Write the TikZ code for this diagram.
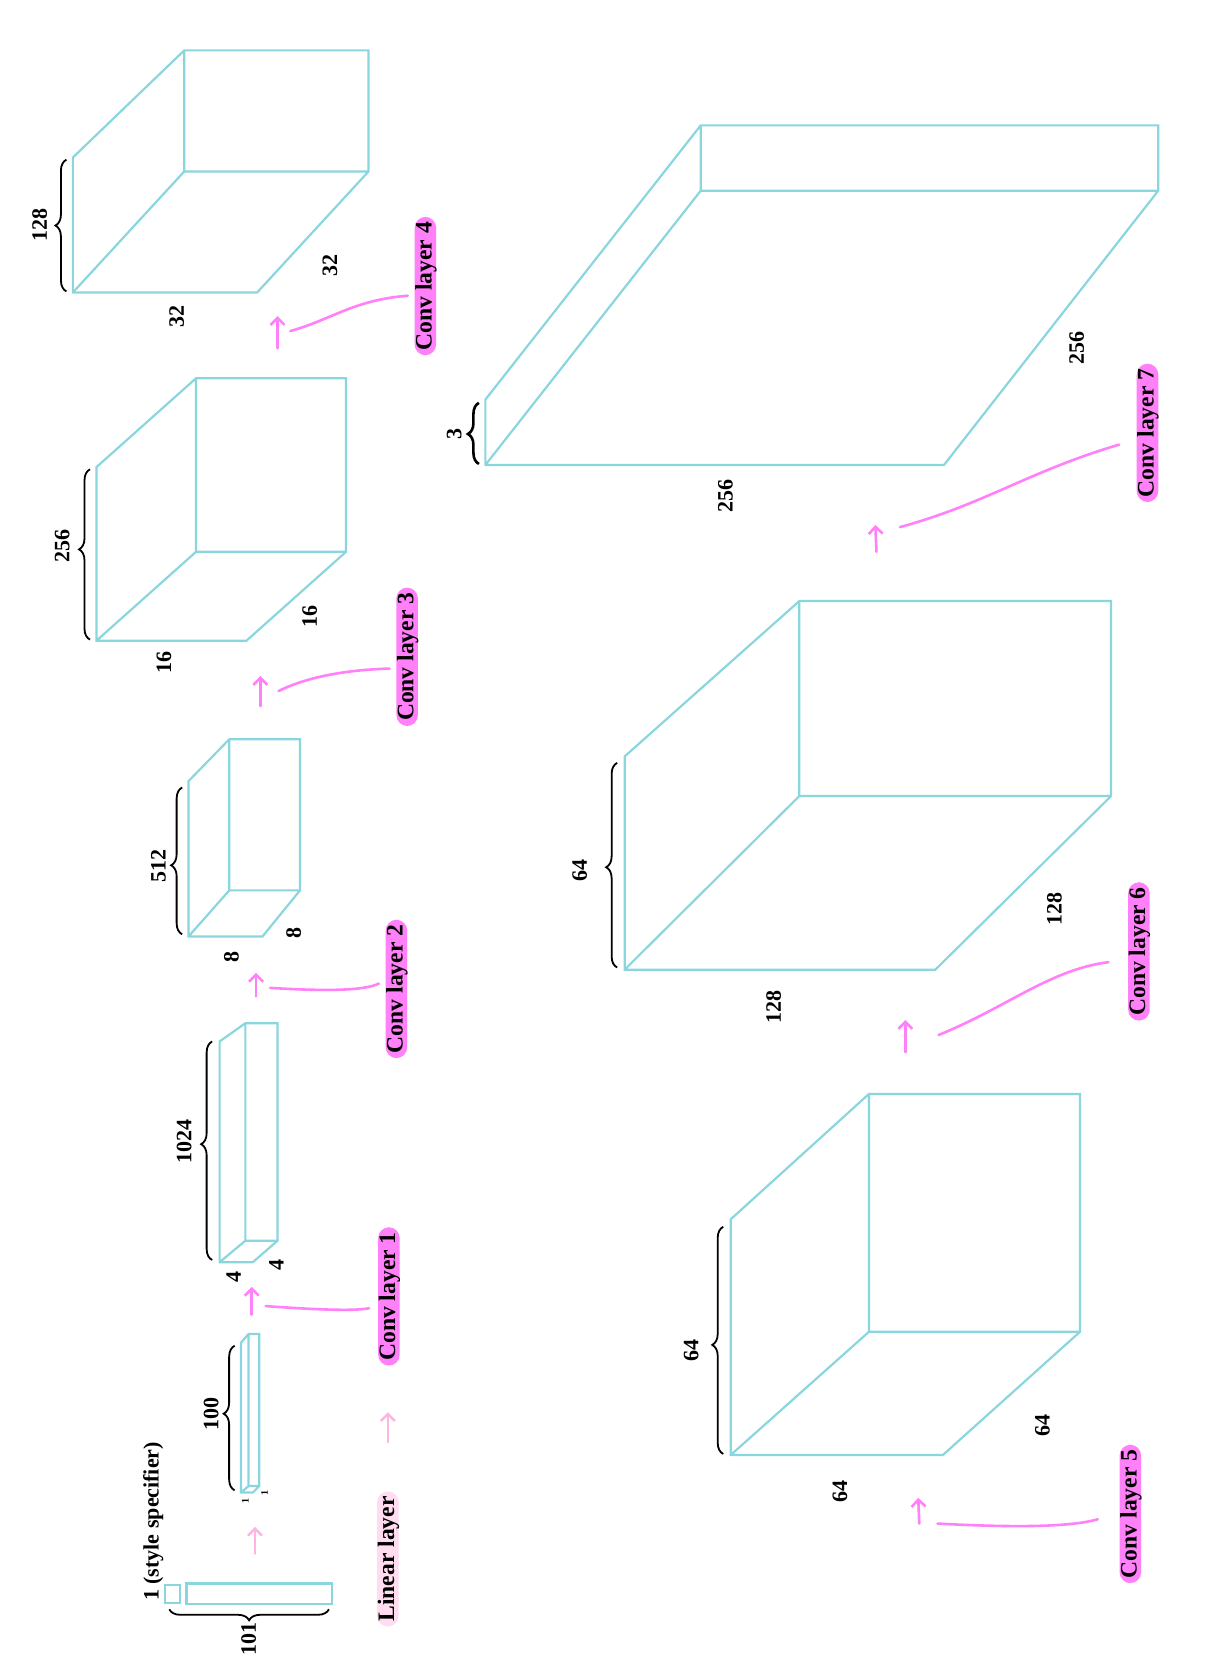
\documentclass[tikz,border=0pt]{standalone}
\usepackage{fontspec}
\setmainfont{Liberation Serif}
\usetikzlibrary{decorations.pathreplacing,arrows.meta,calc}
\definecolor{boxblue}{HTML}{8AD6DF}
\definecolor{convpink}{HTML}{FF80F8}
\definecolor{linpink}{HTML}{FFDCEF}
\definecolor{linarrow}{HTML}{FFB4E2}

\begin{document}
\begin{tikzpicture}[x=0.536pt, y=-0.536pt,
    box/.style={draw=boxblue, line width=1.1pt},
    num/.style={rotate=90, font=\bfseries\fontsize{11}{12}\selectfont, inner sep=1pt},
    tinynum/.style={rotate=90, font=\bfseries\fontsize{5}{6}\selectfont, inner sep=0.5pt},
    pill/.style={num, font=\bfseries\fontsize{11.8}{13}\selectfont, fill=convpink, rounded corners=5.5pt, inner xsep=2.5pt, inner ysep=0pt, text height=8.5pt, text depth=2.3pt},
    flow/.style={draw=convpink, line width=1.3pt, line cap=round},
    uparrow/.style={flow, -{Straight Barb[length=3.5pt, width=7pt]}},
    brc/.style={draw=black, line width=0.9pt, decorate, decoration={brace, amplitude=5.5pt, aspect=#1}},
    brc/.default=0.5]
        \useasboundingbox (0,0) rectangle (1127,1568);

        \draw[box] (154,1479) rectangle (168,1496);
        \draw[box] (174,1478) rectangle (310,1497);
        \draw[brc] (307,1502) -- (158,1502);
        \node[num] (n101) at (232,1530) {101};
        \node[num] (style) at (143,1420) {1 (style specifier)};

        \draw[box] (225,1253) -- (225,1393) -- (236,1393) -- (242,1387) -- (242,1245) -- (232,1245) -- cycle (225,1393) -- (232,1387) -- (242,1387) (232,1387) -- (232,1245);
        \draw[brc=0.53] (219,1391) -- (219,1256);
        \node[num] (n100) at (197,1320) {100};
        \node[tinynum] (d0a) at (229,1401) {1};
        \node[tinynum] (d0b) at (247,1393) {1};

        \draw[box] (205,972) -- (205,1178) -- (236,1178) -- (259,1158) -- (259,955) -- (229,955) -- cycle (205,1178) -- (229,1158) -- (259,1158) (229,1158) -- (229,955);
        \draw[brc=0.53] (198,1176) -- (198,972);
        \node[num] (n1024) at (172,1065) {1024};
        \node[num] (d1a) at (218,1192) {4};
        \node[num] (d1b) at (258,1181) {4};

        \draw[box] (176,729) -- (176,874) -- (245,874) -- (280,831) -- (280,690) -- (214,690) -- cycle (176,874) -- (214,831) -- (280,831) (214,831) -- (214,690);
        \draw[brc=0.47] (170,872) -- (170,735);
        \node[num] (n512) at (148,808) {512};
        \node[num] (d2a) at (216,893) {8};
        \node[num] (d2b) at (274,871) {8};

        \draw[box] (90,436) -- (90,598) -- (230,598) -- (323,515) -- (323,353) -- (183,353) -- cycle (90,598) -- (183,515) -- (323,515) (183,515) -- (183,353);
        \draw[brc=0.53] (84,597) -- (84,438);
        \node[num] (n256) at (58,510) {256};
        \node[num] (d3a) at (153,618) {16};
        \node[num] (d3b) at (289,575) {16};

        \draw[box] (68,147) -- (68,273) -- (240,273) -- (344,160) -- (344,47) -- (172,47) -- cycle (68,273) -- (172,160) -- (344,160) (172,160) -- (172,47);
        \draw[brc] (62,272) -- (62,149);
        \node[num] (n128) at (37,210) {128};
        \node[num] (d4a) at (165,295) {32};
        \node[num] (d4b) at (308,248) {32};

        \draw[box] (682,1138) -- (682,1358) -- (880,1358) -- (1008,1243) -- (1008,1021) -- (811,1021) -- cycle (682,1358) -- (811,1243) -- (1008,1243) (811,1243) -- (811,1021);
        \draw[brc=0.48] (675,1357) -- (675,1145);
        \node[num] (n64a) at (645,1260) {64};
        \node[num] (d5a) at (784,1392) {64};
        \node[num] (d5b) at (973,1330) {64};

        \draw[box] (583,706) -- (583,905) -- (873,905) -- (1037,743) -- (1037,561) -- (746,561) -- cycle (583,905) -- (746,743) -- (1037,743) (746,743) -- (746,561);
        \draw[brc=0.49] (576,903) -- (576,712);
        \node[num] (n64b) at (541,812) {64};
        \node[num] (d6a) at (722,940) {128};
        \node[num] (d6b) at (984,848) {128};

        \draw[box] (453,373) -- (453,434) -- (881,434) -- (1081,178) -- (1081,117) -- (654,117) -- cycle (453,434) -- (654,178) -- (1081,178) (654,178) -- (654,117);
        \draw[brc=0.49, line width=1.3pt] (447,433) -- (447,376);
        \node[num] (n3) at (424,405) {3};
        \node[num] (d7a) at (677,463) {256};
        \node[num] (d7b) at (1005,325) {256};

        \node[pill, fill=linpink] (lin) at (362,1455) {Linear layer};
        \node[pill] (c1) at (363,1210) {Conv layer 1};
        \node[pill] (c2) at (370,923) {Conv layer 2};
        \node[pill] (c3) at (380,613) {Conv layer 3};
        \node[pill] (c4) at (397,267) {Conv layer 4};
        \node[pill] (c5) at (1055,1413) {Conv layer 5};
        \node[pill] (c6) at (1063,888) {Conv layer 6};
        \node[pill] (c7) at (1071,404) {Conv layer 7};

        \draw[uparrow, draw=linarrow] (238,1450) -- (238,1425);
        \draw[uparrow, draw=linarrow] (362,1346) -- (362,1318);
        \draw[uparrow] (235,1227) -- (235,1201);
        \draw[uparrow] (239,930) -- (239,908);
        \draw[uparrow] (243,659) -- (243,631);
        \draw[uparrow] (259,325) -- (259,295);
        \draw[uparrow] (858,1422) -- (857,1398);
        \draw[uparrow] (845,982) -- (845,952);
        \draw[uparrow] (818,515) -- (817,490);

        \draw[flow] (248,1219) .. controls (290,1222) and (330,1224) .. ($(c1.north)+(-8,11)$);
        \draw[flow] (252,922) .. controls (300,925) and (340,925) .. ($(c2.north)+(-6,-5)$);
        \draw[flow] (260,645) .. controls (290,630) and (330,625) .. ($(c3.north)+(-6,11)$);
        \draw[flow] (271,309) .. controls (310,298) and (330,280) .. ($(c4.north)+(-6,9)$);
        \draw[flow] (875,1422) .. controls (950,1426) and (1000,1425) .. ($(c5.north)+(-20,5)$);
        \draw[flow] (876,966) .. controls (940,940) and (980,905) .. ($(c6.north)+(-18,10)$);
        \draw[flow] (840,492) .. controls (920,470) and (960,440) .. ($(c7.north)+(-16,11)$);
\end{tikzpicture}
\end{document}
